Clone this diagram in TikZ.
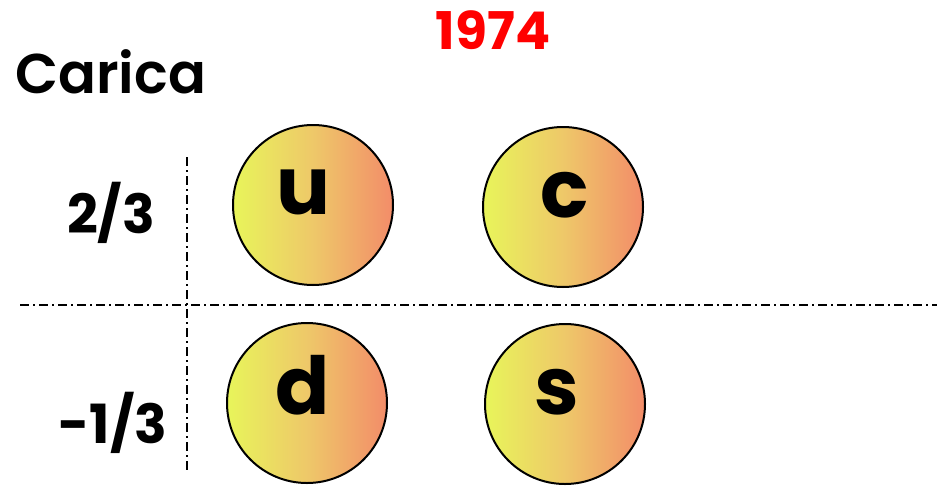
\documentclass[tikz,border=0pt]{standalone}
\usepackage{fontspec}
\setmainfont{Poppins}[BoldFont={* SemiBold}]
\newfontfamily\heavyfont{Poppins}[UprightFont={* Bold}]
\begin{document}
\begin{tikzpicture}[x=1pt,y=-1pt,
  quark/.style={circle,draw=black,line width=2pt,minimum size=160pt,inner sep=0pt,
    left color=qleft,right color=qright,middle color=qmid},
  qlabel/.style={font=\heavyfont\fontsize{80}{80}\selectfont,anchor=base,inner sep=0pt},
  charge/.style={font=\heavyfont\fontsize{54}{54}\selectfont,anchor=base,inner sep=0pt},
  axis/.style={line width=1.4pt,dash pattern=on 9pt off 4pt on 2pt off 4pt}]
\definecolor{qleft}{RGB}{232,245,90}
\definecolor{qmid}{RGB}{238,200,105}
\definecolor{qright}{RGB}{243,140,105}
\useasboundingbox (0,0) rectangle (937,485);
% axes
\coordinate (hl) at (20,305);
\coordinate (hr) at (937,305);
\coordinate (vt) at (187,157);
\coordinate (vb) at (187,472);
\draw[axis] (hl) -- (hr);
\draw[axis] (vt) -- (vb);
% titles
\node[font=\bfseries\fontsize{56}{56}\selectfont,anchor=base west,inner sep=0pt] (carica) at (15,93) {Carica};
\node[font=\heavyfont\fontsize{52}{52}\selectfont,text=red,anchor=base,inner sep=0pt] (year) at (493,49) {1974};
% charge values
\node[charge] (up) at (111,233) {2/3};
\node[charge] (down) at (113,443) {-1/3};
% quarks
\node[quark] (u) at (313,205) {};
\node[quark] (c) at (563,207) {};
\node[quark] (d) at (307,403) {};
\node[quark] (s) at (565,404) {};
\node[qlabel] (ul) at (303,214) {u};
\node[qlabel] (cl) at (565,217) {c};
\node[qlabel] (dl) at (303,414) {d};
\node[qlabel] (sl) at (557,414) {s};
\end{tikzpicture}
\end{document}
